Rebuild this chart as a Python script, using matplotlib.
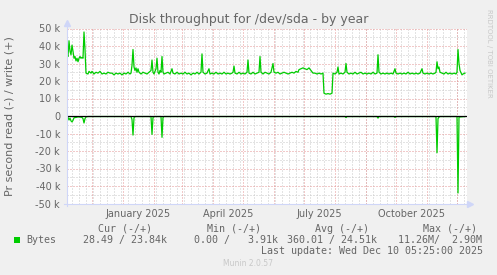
import matplotlib
matplotlib.use('Agg')
import matplotlib.pyplot as plt
import matplotlib.dates as mdates
from matplotlib.lines import Line2D
from matplotlib.patches import Rectangle
import datetime as dt

# ---------------- data ----------------
start = dt.datetime(2024, 11, 6)
span_days = 400

write_day = [0, 1, 2, 3, 4, 5, 6, 7, 8, 9, 10, 11, 12, 13, 14, 15, 16, 17, 18, 19,
             21, 22, 24, 25, 27, 29, 31, 33, 35, 37, 39, 41, 43, 45, 47, 49, 51, 53, 55, 57,
             59, 61, 63, 64, 65, 66, 67, 68, 69, 70, 71, 72, 74, 76, 78, 80, 82, 84, 85, 86,
             87, 88, 89, 90, 91, 92, 93, 94, 95, 96, 97, 99, 101, 103, 105, 106, 108, 110, 112, 114,
             116, 118, 120, 122, 124, 126, 128, 130, 132, 134, 135, 136, 138, 140, 142, 143, 145, 147, 149, 151,
             153, 155, 157, 159, 161, 163, 165, 166, 167, 168, 170, 172, 174, 176, 178, 180, 181, 182, 184, 186,
             188, 190, 192, 193, 194, 196, 198, 200, 202, 204, 206, 207, 209, 211, 213, 215, 217, 219, 221, 223,
             225, 227, 229, 231, 232, 234, 236, 238, 240, 242, 244, 246, 248, 250, 252, 254, 256, 257, 259, 261,
             263, 265, 266, 268, 270, 271, 272, 274, 276, 278, 279, 280, 282, 284, 286, 288, 290, 292, 294, 296,
             298, 300, 302, 304, 306, 308, 310, 311, 312, 314, 316, 318, 320, 322, 324, 326, 328, 329, 331, 333,
             335, 337, 339, 341, 343, 345, 347, 349, 351, 353, 355, 356, 358, 360, 362, 364, 366, 368, 369, 370,
             371, 372, 373, 375, 377, 379, 381, 383, 385, 387, 389, 390, 391, 392, 393, 395, 396, 398]
write_k = [35, 34, 43, 37, 35, 40.5, 37, 33, 34, 31.5, 33, 31, 33, 34, 33, 33.5, 33, 48, 38, 24.5,
           24, 25.5, 24.5, 25.5, 24, 25, 24.5, 25.5, 24, 24.5, 24, 25, 24.5, 24.5, 23.5, 24.5, 24, 24.5, 23.5, 24.5,
           24, 25, 24, 24.5, 29, 38, 28, 26, 27.5, 25, 27, 25, 24, 25, 24.5, 24, 25, 26, 32, 25,
           24, 25.5, 27, 33, 25, 24, 26, 25, 34, 25, 24, 24.5, 25, 24, 27, 24.5, 24, 25, 24, 24.5,
           24, 25, 24, 24.5, 23.5, 24.5, 24, 25, 24, 25, 35.5, 25, 24, 24.5, 27, 24, 24.5, 24, 25, 24,
           24.5, 24, 25, 24, 24.5, 24, 24.5, 25, 28.5, 24.5, 24, 25, 24, 24.5, 24, 25, 32, 24.5, 24, 25,
           24, 24.5, 25, 34, 25, 24, 25, 24.5, 24, 25, 30, 25, 24.5, 25, 24, 24.5, 25, 24.5, 24, 24.5,
           25, 24.5, 25.5, 25, 26.5, 27, 27.5, 27, 26.5, 27.5, 26, 24.5, 24.5, 24, 24.5, 24, 24.5, 13, 12.5, 12.8,
           12.5, 13, 24.5, 24, 25, 28, 24, 24.5, 24, 25, 30, 25, 24, 24.5, 24, 25, 24, 24.5, 25, 24,
           24.5, 24, 24.5, 24, 25, 24, 24.5, 35, 25, 24, 24.5, 24, 24.5, 24, 24.5, 24, 27, 24.5, 24, 24.5,
           24, 24.5, 24, 25, 24, 24.5, 24, 24.5, 24, 24.5, 27, 24.5, 24, 24.5, 24, 24.5, 24, 24.5, 25, 31,
           27, 28, 25, 24.5, 24, 25, 24, 24.5, 24, 24.5, 24, 25, 38, 30, 26, 23.5, 24, 24.5]

read_day = [0, 1, 2, 3, 4, 5, 6, 7, 9, 11, 13, 15, 16, 17, 18, 19, 21, 64, 65, 66,
            67, 68, 84, 85, 86, 87, 94, 95, 96, 97, 278, 279, 280, 310, 311, 312, 327, 328, 329, 368,
            369, 370, 371, 372, 373, 390, 391, 392, 398]
read_k = [-1.5, -0.8, -2.3, -1.2, -2.8, -3.4, -2.5, -1.0, -0.8, -0.5, -0.6, -0.8, -1.5, -4.0, -1.5, -0.5, -0.3, -0.3, -2.0, -10.9,
          -1.0, -0.3, -0.3, -10.5, -0.8, -0.3, -0.3, -12.2, -0.8, -0.3, -0.3, -0.9, -0.3, -0.3, -1.2, -0.3, -0.3, -0.8, -0.3, -0.3,
          -0.6, -21.0, -1.5, -0.6, -0.3, -0.3, -44.0, -0.6, -0.3]

y_ticks = [-50000, -40000, -30000, -20000, -10000, 0, 10000, 20000, 30000, 40000, 50000]
y_labels = ['-50 k', '-40 k', '-30 k', '-20 k', '-10 k', '0', '10 k', '20 k', '30 k', '40 k', '50 k']
x_label_dates = [dt.datetime(2025, 1, 16), dt.datetime(2025, 4, 16), dt.datetime(2025, 7, 16), dt.datetime(2025, 10, 16)]
x_labels = ['January 2025', 'April 2025', 'July 2025', 'October 2025']

title = 'Disk throughput for /dev/sda - by year'
ylabel = 'Pr second read (-) / write (+)'
legend_name = 'Bytes'
legend_heads = ['Cur (-/+)', 'Min (-/+)', 'Avg (-/+)', 'Max (-/+)']
legend_vals = ['28.49 / 23.84k', '0.00 /   3.91k', '360.01 / 24.51k', '11.26M/  2.90M']
last_update = 'Last update: Wed Dec 10 05:25:00 2025'

# ---------------- style ----------------
W, H = 497, 275
BG = '#F0F0F0'
FONT = '#666666'
GREEN = '#00CC00'
MGRID = '#E49494'
GRID = '#C8C8C8'
AXISC = '#CFD6F8'
MONO = 'DejaVu Sans Mono'
DOT = (0, (1, 2))

def fx(px):
    return px / W

def fy(py):
    return 1 - py / H

fig = plt.figure(figsize=(W / 100, H / 100), dpi=100, facecolor=BG)
L, R, T, B = 67, 467, 28.5, 203.5
ax = fig.add_axes([fx(L), fy(B), (R - L) / W, (B - T) / H])
ax.set_facecolor('white')
for s in ax.spines.values():
    s.set_visible(False)

x0 = mdates.date2num(start)
x1 = mdates.date2num(start + dt.timedelta(days=span_days))
ax.set_xlim(x0, x1)
ax.set_ylim(-50000, 50000)

# grid
for v in range(-45000, 50000, 10000):
    ax.axhline(v, color=GRID, lw=0.72, ls=DOT, zorder=1)
for v in y_ticks:
    if v != 0:
        ax.axhline(v, color=MGRID, lw=0.72, ls=DOT, zorder=1.5)
d = dt.datetime(2024, 11, 11)
while d < start + dt.timedelta(days=span_days):
    ax.axvline(mdates.date2num(d), color=GRID, lw=0.72, ls=DOT, zorder=1)
    d += dt.timedelta(days=7)
month_starts = []
y, m = 2024, 12
while dt.datetime(y, m, 1) < start + dt.timedelta(days=span_days):
    month_starts.append(dt.datetime(y, m, 1))
    m += 1
    if m > 12:
        m, y = 1, y + 1
for ms in month_starts:
    ax.axvline(mdates.date2num(ms), color=MGRID, lw=0.72, ls=DOT, zorder=1.5)

# data
wx = [mdates.date2num(start + dt.timedelta(days=d)) for d in write_day]
rx = [mdates.date2num(start + dt.timedelta(days=d)) for d in read_day]
ax.plot(wx, [v * 1000 for v in write_k], color=GREEN, lw=0.9, zorder=3)
ax.plot(rx, [v * 1000 for v in read_k], color=GREEN, lw=0.9, zorder=3)
ax.axhline(0, color='black', lw=0.9, zorder=4)

# ticks
ax.set_yticks(y_ticks)
ax.set_yticklabels(y_labels)
ax.set_xticks([mdates.date2num(d) for d in x_label_dates])
ax.set_xticklabels(x_labels)
ax.tick_params(axis='y', length=0, pad=5, labelsize=7, labelcolor=FONT)
ax.tick_params(axis='x', length=0, pad=4, labelsize=7, labelcolor=FONT)

# axis lines with arrows
fig.add_artist(Line2D([fx(L), fx(L)], [fy(206), fy(24)], color=AXISC, lw=0.8))
fig.add_artist(Line2D([fx(64), fx(469)], [fy(B), fy(B)], color=AXISC, lw=0.8))
fig.add_artist(Line2D([fx(L)], [fy(23)], marker='^', color=AXISC, markersize=4, lw=0))
fig.add_artist(Line2D([fx(470)], [fy(B)], marker='>', color=AXISC, markersize=4, lw=0))

# texts
fig.text(fx(248.5), fy(19), title, ha='center', va='center', fontsize=9, color=FONT)
fig.text(fx(10), fy(116), ylabel, ha='center', va='center', rotation=90, fontsize=8, color=FONT)
fig.text(fx(489), fy(53), 'RRDTOOL / TOBI OETIKER', ha='center', va='center', rotation=-90,
         fontsize=5, color='#C8C8C8')

head_x = [98, 207, 315, 423]
val_x = [83, 194, 287, 398]
for hx, h in zip(head_x, legend_heads):
    fig.text(fx(hx), fy(228.5), h, ha='left', va='center', fontsize=7.2, family=MONO, color=FONT)
for vx, v in zip(val_x, legend_vals):
    fig.text(fx(vx), fy(240), v, ha='left', va='center', fontsize=7.2, family=MONO, color=FONT)
fig.add_artist(Rectangle((fx(14), fy(243)), 6 / W, 6 / H, transform=fig.transFigure,
                         facecolor=GREEN, edgecolor='none'))
fig.text(fx(26), fy(240), legend_name, ha='left', va='center', fontsize=7.2, family=MONO, color=FONT)
fig.text(fx(483), fy(251.5), last_update, ha='right', va='center', fontsize=7.2, family=MONO, color=FONT)
fig.text(fx(248), fy(264), 'Munin 2.0.57', ha='center', va='center', fontsize=5.5, color='#C8C8C8')

fig.savefig('out.png', dpi=100, facecolor=BG)
